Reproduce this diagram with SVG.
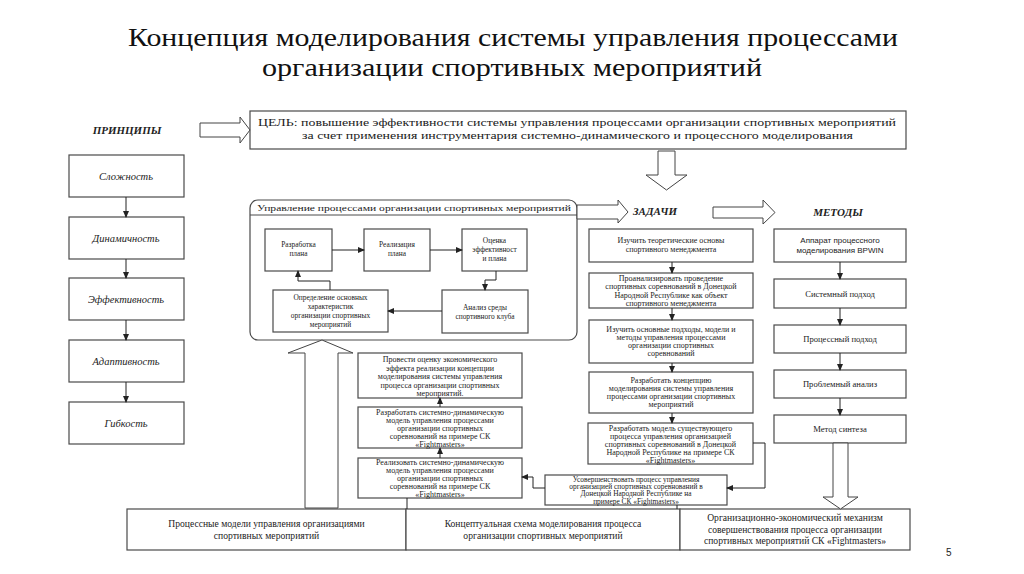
<svg xmlns="http://www.w3.org/2000/svg" width="1024" height="574" viewBox="0 0 1024 574">
<style>
text{fill:#222}
.title{font-size:24.5px;fill:#111}
.box{fill:#fff;stroke:#4a4a4a;stroke-width:1.2}
.hollow{fill:#fff;stroke:#444;stroke-width:1}
.pr{font-size:10.5px;font-style:italic;text-anchor:middle}
.hd{font-size:11px;font-style:italic;font-weight:bold;text-anchor:middle}
.s7{font-size:7.4px;text-anchor:middle}
.s8{font-size:8px;text-anchor:middle}
.m{font-size:8.6px;text-anchor:middle}
.b{font-size:9.6px;text-anchor:middle}
.g{font-size:10.4px}
.con{fill:none;stroke:#222;stroke-width:1}
</style>
<defs>
<marker id="ar" markerWidth="7" markerHeight="6" refX="6" refY="3" orient="auto" markerUnits="userSpaceOnUse"><path d="M0,0 L7,3 L0,6 z" fill="#222"/></marker>
</defs>
<rect width="1024" height="574" fill="#fff"/>
<g font-family="'Liberation Serif', 'DejaVu Serif', serif">
<g id="title">
<text class="title" x="513" y="46" text-anchor="middle" textLength="770" lengthAdjust="spacingAndGlyphs">Концепция моделирования системы управления процессами</text>
<text class="title" x="512" y="76" text-anchor="middle" textLength="500" lengthAdjust="spacingAndGlyphs">организации спортивных мероприятий</text>
</g>
<g id="principles-label"><text class="hd" x="127" y="134">ПРИНЦИПЫ</text></g>
<g id="tasks-label"><text class="hd" x="655" y="215">ЗАДАЧИ</text></g>
<g id="methods-label"><text class="hd" x="838" y="216">МЕТОДЫ</text></g>
<g id="goal">
<rect class="box" x="250" y="111" width="656" height="38"/>
<text class="g" x="258" y="126" textLength="638" lengthAdjust="spacingAndGlyphs">ЦЕЛЬ: повышение эффективности системы управления процессами организации спортивных мероприятий</text>
<text class="g" x="302" y="139" textLength="551" lengthAdjust="spacingAndGlyphs">за счет применения инструментария системно-динамического и процессного моделирования</text>
</g>
<g id="p1"><rect class="box" x="69" y="155" width="115" height="42"/><text class="pr" x="126" y="180">Сложность</text></g>
<g id="p2"><rect class="box" x="69" y="217" width="115" height="42"/><text class="pr" x="126" y="242">Динамичность</text></g>
<g id="p3"><rect class="box" x="69" y="278" width="115" height="42"/><text class="pr" x="126" y="303">Эффективность</text></g>
<g id="p4"><rect class="box" x="69" y="340" width="115" height="42"/><text class="pr" x="126" y="365">Адаптивность</text></g>
<g id="p5"><rect class="box" x="69" y="402" width="115" height="42"/><text class="pr" x="126" y="427">Гибкость</text></g>
<g id="management">
<rect class="box" x="250" y="200" width="327" height="140" rx="8"/>
<line x1="250" y1="215" x2="577" y2="215" stroke="#4a4a4a" stroke-width="1"/>
<text x="257" y="211" font-size="8.6" textLength="314" lengthAdjust="spacingAndGlyphs">Управление процессами организации спортивных мероприятий</text>
</g>
<g id="m-plan"><rect class="box" x="265" y="229" width="67" height="42"/><text class="s7" x="298.5" y="247">Разработка</text><text class="s7" x="298.5" y="256">плана</text></g>
<g id="m-real"><rect class="box" x="364" y="229" width="66" height="42"/><text class="s7" x="397" y="247">Реализация</text><text class="s7" x="397" y="256">плана</text></g>
<g id="m-eval"><rect class="box" x="462" y="229" width="65" height="42"/><text class="s7" x="494.5" y="243">Оценка</text><text class="s7" x="494.5" y="252">эффективност</text><text class="s7" x="494.5" y="261">и плана</text></g>
<g id="m-anal"><rect class="box" x="442" y="290" width="86" height="43"/><text class="s7" x="485" y="310">Анализ среды</text><text class="s7" x="485" y="319">спортивного клуба</text></g>
<g id="m-def"><rect class="box" x="273" y="290" width="115" height="42"/><text class="s7" x="330.5" y="300">Определение основных</text><text class="s7" x="330.5" y="309">характеристик</text><text class="s7" x="330.5" y="318">организации спортивных</text><text class="s7" x="330.5" y="327">мероприятий</text></g>
<g id="t1"><rect class="box" x="589" y="229" width="164" height="33"/><text class="s8" x="671" y="243">Изучить теоретические основы</text><text class="s8" x="671" y="252">спортивного менеджмента</text></g>
<g id="t2"><rect class="box" x="589" y="273" width="164" height="35"/><text class="s8" x="671" y="281">Проанализировать проведение</text><text class="s8" x="671" y="289.3">спортивных соревнований в Донецкой</text><text class="s8" x="671" y="297.6">Народной Республике как объект</text><text class="s8" x="671" y="305.9">спортивного менеджмента</text></g>
<g id="t3"><rect class="box" x="589" y="320" width="164" height="43"/><text class="s8" x="671" y="331.5">Изучить основные подходы, модели и</text><text class="s8" x="671" y="339.8">методы управления процессами</text><text class="s8" x="671" y="348.1">организации спортивных</text><text class="s8" x="671" y="356.4">соревнований</text></g>
<g id="t4"><rect class="box" x="589" y="372" width="164" height="41"/><text class="s8" x="671" y="382.5">Разработать концепцию</text><text class="s8" x="671" y="390.8">моделирования системы управления</text><text class="s8" x="671" y="399.1">процессами организации спортивных</text><text class="s8" x="671" y="407.4">мероприятий</text></g>
<g id="t5"><rect class="box" x="588" y="423" width="165" height="41"/><text class="s8" x="670.5" y="430.5">Разработать модель существующего</text><text class="s8" x="670.5" y="438.5">процесса управления организацией</text><text class="s8" x="670.5" y="446.5">спортивных соревнований в Донецкой</text><text class="s8" x="670.5" y="454.5">Народной Республике на примере СК</text><text class="s8" x="670.5" y="462.5">«Fightmasters»</text></g>
<g id="t6"><rect class="box" x="545" y="475" width="182" height="30"/><text class="s7" x="636" y="482">Усовершенствовать процесс управления</text><text class="s7" x="636" y="489.2">организацией спортивных соревнований в</text><text class="s7" x="636" y="496.4">Донецкой Народной Республике на</text><text class="s7" x="636" y="503.6">примере СК «Fightmasters»</text></g>
<g id="t7"><rect class="box" x="358" y="353" width="164" height="45"/><text class="s8" x="440" y="362">Провести оценку экономического</text><text class="s8" x="440" y="370.5">эффекта реализации концепции</text><text class="s8" x="440" y="379">моделирования системы управления</text><text class="s8" x="440" y="387.5">процесса организации спортивных</text><text class="s8" x="440" y="396">мероприятий.</text></g>
<g id="t8"><rect class="box" x="358" y="407" width="164" height="41"/><text class="s8" x="440" y="414.5">Разработать системно-динамическую</text><text class="s8" x="440" y="422.5">модель управления процессами</text><text class="s8" x="440" y="430.5">организации спортивных</text><text class="s8" x="440" y="438.5">соревнований на примере СК</text><text class="s8" x="440" y="446.5">«Fightmasters»</text></g>
<g id="t9"><rect class="box" x="358" y="458" width="164" height="40"/><text class="s8" x="440" y="465">Реализовать системно-динамическую</text><text class="s8" x="440" y="473">модель управления процессами</text><text class="s8" x="440" y="481">организации спортивных</text><text class="s8" x="440" y="489">соревнований на примере СК</text><text class="s8" x="440" y="497">«Fightmasters»</text></g>
<g id="me1"><rect class="box" x="774" y="229" width="132" height="33"/><text x="840" y="243" font-family="'Liberation Sans', Arial, sans-serif" font-size="8" text-anchor="middle">Аппарат процессного</text><text x="840" y="253" font-family="'Liberation Sans', Arial, sans-serif" font-size="8" text-anchor="middle">моделирования BPWIN</text></g>
<g id="me2"><rect class="box" x="774" y="279" width="132" height="29"/><text class="m" x="840" y="296.5">Системный подход</text></g>
<g id="me3"><rect class="box" x="774" y="325" width="132" height="28"/><text class="m" x="840" y="342">Процессный подход</text></g>
<g id="me4"><rect class="box" x="774" y="370" width="132" height="28"/><text class="m" x="840" y="387">Проблемный анализ</text></g>
<g id="me5"><rect class="box" x="774" y="415" width="132" height="28"/><text class="m" x="840" y="432">Метод синтеза</text></g>
<g id="r1"><rect class="box" x="127" y="509" width="279" height="41"/><text class="b" x="266.5" y="526.5">Процессные модели управления организациями</text><text class="b" x="266.5" y="538.5">спортивных мероприятий</text></g>
<g id="r2"><rect class="box" x="406" y="509" width="274" height="41"/><text class="b" x="543" y="526.5">Концептуальная схема моделирования процесса</text><text class="b" x="543" y="538.5">организации спортивных мероприятий</text></g>
<g id="r3"><rect class="box" x="680" y="509" width="230" height="41"/><text class="b" x="795" y="521">Организационно-экономический механизм</text><text class="b" x="795" y="532.5">совершенствования процесса организации</text><text class="b" x="795" y="544">спортивных мероприятий СК «Fightmasters»</text></g>
</g>
<g id="connectors">
<polygon class="hollow" points="200,123 240,123 240,117 250,130 240,143 240,137 200,137"/>
<polygon class="hollow" points="658,151 675,151 675,175 687,175 666.5,190 646,175 658,175"/>
<polygon class="hollow" points="577,205 618,205 618,200 628,212 618,223 618,219 577,219"/>
<polygon class="hollow" points="713,207 763,207 763,200 775,212.5 763,224 763,218 713,218"/>
<polygon class="hollow" points="305,508 305,353 288,353 322,340 353,353 338,353 338,508"/>
<polygon class="hollow" points="833,443 848,443 848,497 858,497 840.5,509 823,497 833,497"/>
<line class="con" x1="126" y1="197" x2="126" y2="217" marker-end="url(#ar)"/>
<line class="con" x1="126" y1="259" x2="126" y2="278" marker-end="url(#ar)"/>
<line class="con" x1="126" y1="320" x2="126" y2="340" marker-end="url(#ar)"/>
<line class="con" x1="126" y1="382" x2="126" y2="402" marker-end="url(#ar)"/>
<line class="con" x1="332" y1="250" x2="364" y2="250" marker-end="url(#ar)"/>
<line class="con" x1="430" y1="250" x2="462" y2="250" marker-end="url(#ar)"/>
<polyline class="con" points="496,271 496,280 485,280 485,290" marker-end="url(#ar)"/>
<line class="con" x1="442" y1="311" x2="388" y2="311" marker-end="url(#ar)"/>
<polyline class="con" points="330,290 330,281 298,281 298,271" marker-end="url(#ar)"/>
<line class="con" x1="672" y1="262" x2="672" y2="273" marker-end="url(#ar)"/>
<line class="con" x1="672" y1="308" x2="672" y2="320" marker-end="url(#ar)"/>
<line class="con" x1="672" y1="363" x2="672" y2="372" marker-end="url(#ar)"/>
<line class="con" x1="672" y1="413" x2="672" y2="423" marker-end="url(#ar)"/>
<polyline class="con" points="753,443 765,443 765,488 727,488" marker-end="url(#ar)"/>
<polyline class="con" points="545,488 533,488 533,477 522,477" marker-end="url(#ar)"/>
<line class="con" x1="440" y1="458" x2="440" y2="448" marker-end="url(#ar)"/>
<line class="con" x1="440" y1="407" x2="440" y2="398" marker-end="url(#ar)"/>
<line class="con" x1="840" y1="262" x2="840" y2="279" marker-end="url(#ar)"/>
<line class="con" x1="840" y1="308" x2="840" y2="325" marker-end="url(#ar)"/>
<line class="con" x1="840" y1="353" x2="840" y2="370" marker-end="url(#ar)"/>
<line class="con" x1="840" y1="398" x2="840" y2="415" marker-end="url(#ar)"/>
<line class="con" x1="407" y1="498" x2="407" y2="509"/>
<line class="con" x1="677" y1="505" x2="677" y2="509"/>
</g>
<text x="946" y="556" font-family="'Liberation Sans', Arial, sans-serif" font-size="10" fill="#999">5</text>
</svg>
